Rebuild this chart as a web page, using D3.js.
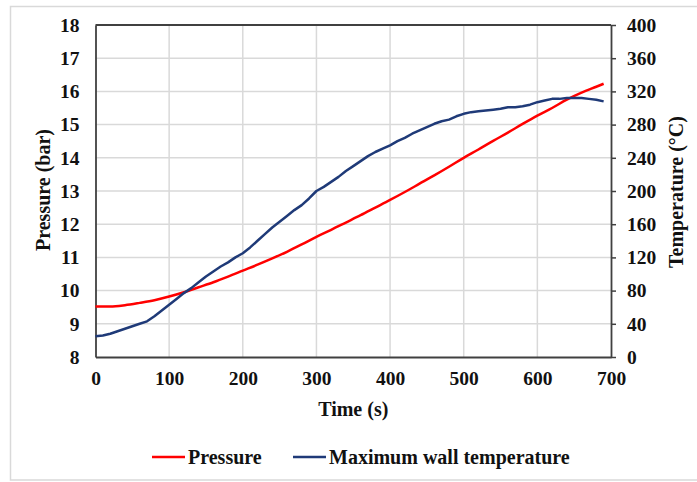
<!DOCTYPE html>
<html>
<head>
<meta charset="utf-8">
<script src="https://cdn.jsdelivr.net/npm/d3@7"></script>
<style>
	body { margin: 0; background: #fff; }
	text { font-family: 'Liberation Serif', 'Times New Roman', serif; font-weight: bold; fill: #111; }
</style>
</head>
<body>
<div id="chart"></div>
<script>
// Pressure and wall temperature vs time

var timeTicks = [0, 100, 200, 300, 400, 500, 600, 700];
var pressureTicks = [8, 9, 10, 11, 12, 13, 14, 15, 16, 17, 18];
var tempTicks = [0, 40, 80, 120, 160, 200, 240, 280, 320, 360, 400];

var pressureTime = [0, 20, 40, 60, 80, 100, 120, 140, 160, 180, 200, 220, 240, 260, 280, 300, 320, 340, 360,
	380, 400, 420, 440, 460, 480, 500, 520, 540, 560, 580, 600, 620, 640, 660, 680, 690];
var pressureValues = [9.52, 9.52, 9.56, 9.63, 9.71, 9.82, 9.95, 10.10, 10.25, 10.42, 10.60, 10.78, 10.97, 11.17, 11.39, 11.62, 11.83, 12.05, 12.27,
	12.50, 12.73, 12.97, 13.22, 13.47, 13.73, 14.00, 14.25, 14.51, 14.76, 15.02, 15.27, 15.50, 15.75, 15.96, 16.14, 16.23];

var tempTime = [0, 10, 20, 30, 40, 50, 60, 70, 80, 90, 100, 110, 120, 130, 140, 150, 160, 170, 180, 190,
	200, 210, 220, 230, 240, 250, 260, 270, 280, 290, 300, 310, 320, 330, 340, 350, 360, 370, 380, 390,
	400, 410, 420, 430, 440, 450, 460, 470, 480, 490, 500, 510, 520, 530, 540, 550, 560, 570, 580, 590,
	600, 610, 620, 630, 640, 650, 660, 670, 680, 690];
var tempValues = [25, 26, 28, 31, 34, 37, 40, 43, 49, 56, 63, 70, 77, 83, 90, 97, 103, 109, 114, 120,
	125, 132, 140, 148, 156, 163, 170, 177, 183, 191, 200, 205, 211, 217, 224, 230, 236, 242, 247, 251,
	255, 260, 264, 269, 273, 277, 281, 284, 286, 290, 293, 295, 296, 297, 298, 299, 301, 301, 302, 304,
	307, 309, 311, 311, 312, 312, 312, 311, 310, 308];

var width = 697,
	height = 482,
	plot = {left: 95.5, right: 611, top: 25, bottom: 357};

var svg = d3.select('#chart').append('svg')
	.attr('width', width)
	.attr('height', height);

// light frame around the figure
svg.append('rect')
	.attr('x', 10.5).attr('y', 6.5)
	.attr('width', 700).attr('height', 473.5)
	.attr('fill', 'none')
	.attr('stroke', '#d9d9d9')
	.attr('stroke-width', 1.5);

var x = d3.scaleLinear().domain([0, 700]).range([plot.left, plot.right]);
var yP = d3.scaleLinear().domain([8, 18]).range([plot.bottom, plot.top]);
var yT = d3.scaleLinear().domain([0, 400]).range([plot.bottom, plot.top]);

// gridlines
svg.append('g').selectAll('line')
	.data(timeTicks.slice(1, -1))
	.enter().append('line')
	.attr('x1', function(d) { return x(d); })
	.attr('x2', function(d) { return x(d); })
	.attr('y1', plot.top).attr('y2', plot.bottom)
	.attr('stroke', '#d9d9d9').attr('stroke-width', 1.5);

svg.append('g').selectAll('line')
	.data(pressureTicks.slice(1, -1))
	.enter().append('line')
	.attr('y1', function(d) { return yP(d); })
	.attr('y2', function(d) { return yP(d); })
	.attr('x1', plot.left).attr('x2', plot.right)
	.attr('stroke', '#d9d9d9').attr('stroke-width', 1.5);

// axes
function styleAxis(g) {
	g.selectAll('.domain').attr('stroke', '#404040').attr('stroke-width', 1.8);
	g.selectAll('.tick line').attr('stroke', '#404040').attr('stroke-width', 1.5);
	g.selectAll('text').style('font-size', '19.5px').attr('fill', '#111');
}

svg.append('g')
	.attr('transform', 'translate(' + plot.left + ',0)')
	.call(d3.axisLeft(yP).tickValues(pressureTicks).tickSize(0).tickPadding(16))
	.call(styleAxis);

svg.append('g')
	.attr('transform', 'translate(' + plot.right + ',0)')
	.call(d3.axisRight(yT).tickValues(tempTicks).tickSizeInner(5).tickSizeOuter(0).tickPadding(11))
	.call(styleAxis);

svg.append('g')
	.attr('transform', 'translate(0,' + plot.bottom + ')')
	.call(d3.axisBottom(x).tickValues(timeTicks).tickSize(0).tickPadding(14))
	.call(styleAxis);

// top border of plot area
svg.append('line')
	.attr('x1', plot.left).attr('x2', plot.right)
	.attr('y1', plot.top).attr('y2', plot.top)
	.attr('stroke', '#404040').attr('stroke-width', 1.8);

// lines
var pressureLine = d3.line()
	.x(function(d, i) { return x(pressureTime[i]); })
	.y(function(d) { return yP(d); })
	.curve(d3.curveMonotoneX);

var tempLine = d3.line()
	.x(function(d, i) { return x(tempTime[i]); })
	.y(function(d) { return yT(d); });

svg.append('path')
	.datum(pressureValues)
	.attr('d', pressureLine)
	.attr('fill', 'none')
	.attr('stroke', '#ff0000')
	.attr('stroke-width', 2.5);

svg.append('path')
	.datum(tempValues)
	.attr('d', tempLine)
	.attr('fill', 'none')
	.attr('stroke', '#1f3a78')
	.attr('stroke-width', 2.5)
	.attr('stroke-linejoin', 'round');

// axis titles
svg.append('text')
	.attr('x', (plot.left + plot.right) / 2)
	.attr('y', 416)
	.attr('text-anchor', 'middle')
	.style('font-size', '20px')
	.text('Time (s)');

svg.append('text')
	.attr('transform', 'translate(50,' + 190 + ') rotate(-90)')
	.attr('text-anchor', 'middle')
	.style('font-size', '20px')
	.text('Pressure (bar)');

svg.append('text')
	.attr('transform', 'translate(683,' + 192 + ') rotate(-90)')
	.attr('text-anchor', 'middle')
	.style('font-size', '20px')
	.text('Temperature (°C)');

// legend
var legendItems = [
	{key: 'Pressure', color: '#ff0000', x: 152},
	{key: 'Maximum wall temperature', color: '#1f3a78', x: 293}
];

var legend = svg.append('g').selectAll('g')
	.data(legendItems)
	.enter().append('g')
	.attr('transform', function(d) { return 'translate(' + d.x + ',457)'; });

legend.append('line')
	.attr('x1', 0).attr('x2', 33)
	.attr('stroke', function(d) { return d.color; })
	.attr('stroke-width', 2.5);

legend.append('text')
	.attr('x', 36)
	.attr('dy', '.35em')
	.style('font-size', '20px')
	.text(function(d) { return d.key; });
</script>
</body>
</html>
